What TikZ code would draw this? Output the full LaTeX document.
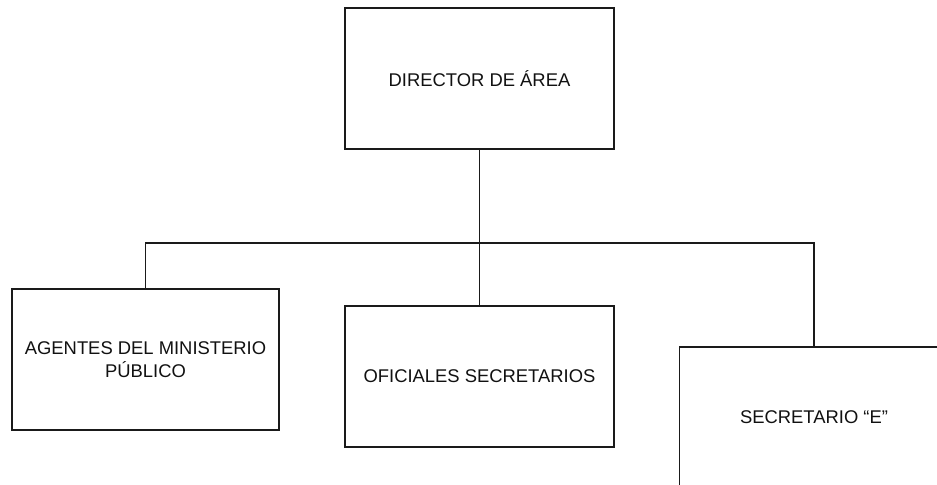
\documentclass[tikz,border=0pt]{standalone}
\usepackage{fontspec}
\setmainfont{Liberation Sans}
\usetikzlibrary{positioning, calc}
\definecolor{InkLine}{HTML}{1A1A1A}
\definecolor{TextInk}{HTML}{111111}

\begin{document}
\begin{tikzpicture}[
    x=0.5pt,
    y=-0.5pt,
    font=\fontsize{9.2}{11.5}\selectfont,
    every node/.style={text=TextInk},
    orgbox/.style={draw=InkLine, fill=white, line width=0.7pt, minimum width=134.5pt, minimum height=70.5pt, align=center, inner sep=2pt},
    linkline/.style={draw=InkLine, line width=0.7pt}
]

\clip (0,0) rectangle (937,485);
\fill[white] (0,0) rectangle (937,485);

\node[orgbox] (director) at (479.5,78.5) {DIRECTOR DE ÁREA};

\node[orgbox, minimum width=133.5pt] (agentes) at (145.5,359.5)
{AGENTES DEL MINISTERIO\\PÚBLICO};

\node[orgbox] (oficiales) at (479.5,376.5) {OFICIALES SECRETARIOS};

\node[orgbox] (secretario) at (814,417.5) {SECRETARIO “E”};

\coordinate (bus) at (479.5,243);

\draw[linkline] (director.south) -- (bus);
\draw[linkline] (bus) -- (oficiales.north);
\draw[linkline] (agentes.north) |- (bus);
\draw[linkline] (bus) -| (secretario.north);

\end{tikzpicture}
\end{document}
